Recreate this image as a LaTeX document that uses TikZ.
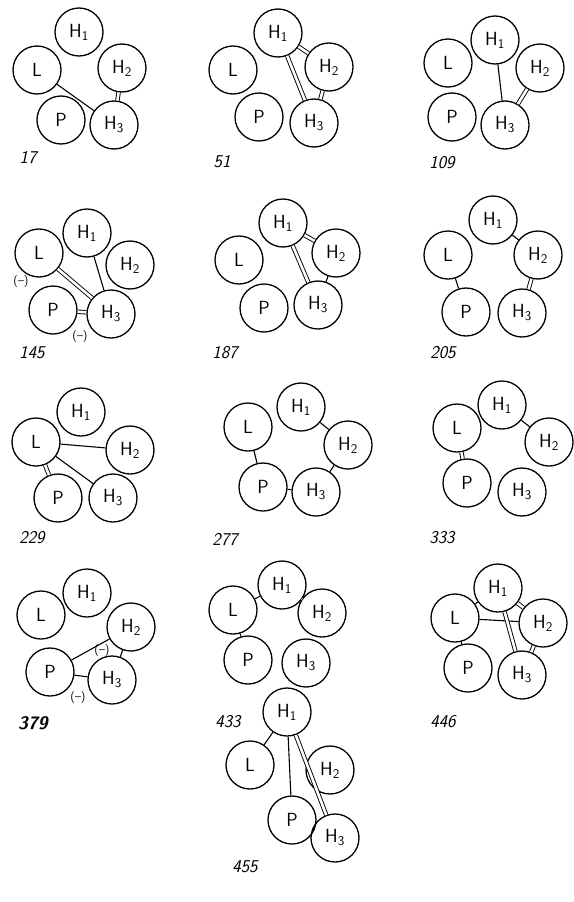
\documentclass[tikz,border=0pt]{standalone}
\usepackage{amsmath}
\usetikzlibrary{arrows,shapes}
\tikzstyle{atom}=[circle,draw=black!100,line width=1.3pt,minimum size=48pt,inner sep=0pt,font=\fontsize{19}{22}\sffamily]
\tikzstyle{sbond}=[line width=1.1pt]
\tikzstyle{dbond}=[double,double distance=2.6pt,line width=0.9pt]
\tikzstyle{nummer}=[font=\fontsize{18}{21}\sffamily\itshape]
\tikzstyle{ladung}=[font=\fontsize{12}{14}\sffamily]

\begin{document}
\begin{tikzpicture}[x=1pt,y=-1pt]
\useasboundingbox (0,0) rectangle (573,902);
% 17
\node[atom] (H1-17) at (79,32) {H\textsubscript{1}};
\node[atom] (L-17) at (37,70) {L};
\node[atom] (H2-17) at (122,68) {H\textsubscript{2}};
\node[atom] (P-17) at (61,120) {P};
\node[atom] (H3-17) at (114,125) {H\textsubscript{3}};
\node[nummer] (n17) at (28,158) {17};
\draw[sbond](L-17)--(H3-17);
\draw[dbond](H2-17)--(H3-17);
% 51
\node[atom] (H1-51) at (278,33) {H\textsubscript{1}};
\node[atom] (L-51) at (233,70) {L};
\node[atom] (H2-51) at (329,67) {H\textsubscript{2}};
\node[atom] (P-51) at (259,117) {P};
\node[atom] (H3-51) at (314,123) {H\textsubscript{3}};
\node[nummer] (n51) at (222,162) {51};
\draw[dbond](H1-51)--(H2-51);
\draw[dbond](H1-51)--(H3-51);
\draw[dbond](H2-51)--(H3-51);
% 109
\node[atom] (H1-109) at (495,40) {H\textsubscript{1}};
\node[atom] (L-109) at (448,63) {L};
\node[atom] (H2-109) at (540,68) {H\textsubscript{2}};
\node[atom] (P-109) at (452,117) {P};
\node[atom] (H3-109) at (505,125) {H\textsubscript{3}};
\node[nummer] (n109) at (442,163) {109};
\draw[sbond](H1-109)--(H3-109);
\draw[dbond](H2-109)--(H3-109);
% 145
\node[atom] (H1-145) at (87,233) {H\textsubscript{1}};
\node[atom] (L-145) at (39,253) {L};
\node[atom] (H2-145) at (130,265) {H\textsubscript{2}};
\node[atom] (P-145) at (53,310) {P};
\node[atom] (H3-145) at (111,314) {H\textsubscript{3}};
\node[nummer] (n145) at (32,353) {145};
\node[ladung] (q1-145) at (21,282) {(--)};
\node[ladung] (q2-145) at (80,337) {(--)};
\draw[dbond](L-145)--(H3-145);
\draw[sbond](H1-145)--(H3-145);
\draw[dbond](P-145)--(H3-145);
% 187
\node[atom] (H1-187) at (283,223) {H\textsubscript{1}};
\node[atom] (L-187) at (239,260) {L};
\node[atom] (H2-187) at (336,253) {H\textsubscript{2}};
\node[atom] (P-187) at (264,308) {P};
\node[atom] (H3-187) at (318,305) {H\textsubscript{3}};
\node[nummer] (n187) at (225,353) {187};
\draw[dbond](H1-187)--(H2-187);
\draw[dbond](H1-187)--(H3-187);
\draw[sbond](H2-187)--(H3-187);
% 205
\node[atom] (H1-205) at (493,220) {H\textsubscript{1}};
\node[atom] (L-205) at (448,255) {L};
\node[atom] (H2-205) at (538,255) {H\textsubscript{2}};
\node[atom] (P-205) at (466,312) {P};
\node[atom] (H3-205) at (522,313) {H\textsubscript{3}};
\node[nummer] (n205) at (443,353) {205};
\draw[sbond](H1-205)--(H2-205);
\draw[sbond](L-205)--(P-205);
\draw[dbond](H2-205)--(H3-205);
% 229
\node[atom] (H1-229) at (81,412) {H\textsubscript{1}};
\node[atom] (L-229) at (36,442) {L};
\node[atom] (H2-229) at (130,450) {H\textsubscript{2}};
\node[atom] (P-229) at (58,498) {P};
\node[atom] (H3-229) at (113,498) {H\textsubscript{3}};
\node[nummer] (n229) at (32,538) {229};
\draw[sbond](L-229)--(H2-229);
\draw[sbond](L-229)--(H3-229);
\draw[dbond](L-229)--(P-229);
% 277
\node[atom] (H1-277) at (301,407) {H\textsubscript{1}};
\node[atom] (L-277) at (248,427) {L};
\node[atom] (H2-277) at (348,445) {H\textsubscript{2}};
\node[atom] (P-277) at (263,487) {P};
\node[atom] (H3-277) at (316,492) {H\textsubscript{3}};
\node[nummer] (n277) at (225,540) {277};
\draw[sbond](L-277)--(P-277);
\draw[sbond](H1-277)--(H2-277);
\draw[sbond](H2-277)--(H3-277);
\draw[sbond](P-277)--(H3-277);
% 333
\node[atom] (H1-333) at (502,405) {H\textsubscript{1}};
\node[atom] (L-333) at (457,428) {L};
\node[atom] (H2-333) at (549,442) {H\textsubscript{2}};
\node[atom] (P-333) at (467,483) {P};
\node[atom] (H3-333) at (522,492) {H\textsubscript{3}};
\node[nummer] (n333) at (442,538) {333};
\draw[dbond](L-333)--(P-333);
\draw[sbond](H1-333)--(H2-333);
% 379
\node[atom] (H1-379) at (87,593) {H\textsubscript{1}};
\node[atom] (L-379) at (41,615) {L};
\node[atom] (H2-379) at (131,627) {H\textsubscript{2}};
\node[atom] (P-379) at (50,672) {P};
\node[atom] (H3-379) at (112,680) {H\textsubscript{3}};
\node[nummer,font=\fontsize{18}{21}\sffamily\bfseries\itshape] (n379) at (33,723) {379};
\node[ladung] (q1-379) at (102,650) {(--)};
\node[ladung] (q2-379) at (78,697) {(--)};
\draw[sbond](P-379)--(H2-379);
\draw[sbond](H2-379)--(H3-379);
\draw[sbond](P-379)--(H3-379);
% 433
\node[atom] (H1-433) at (282,585) {H\textsubscript{1}};
\node[atom] (L-433) at (233,610) {L};
\node[atom] (H2-433) at (322,613) {H\textsubscript{2}};
\node[atom] (P-433) at (248,660) {P};
\node[atom] (H3-433) at (306,663) {H\textsubscript{3}};
\node[nummer] (n433) at (228,722) {433};
\draw[sbond](L-433)--(H1-433);
\draw[dbond](H1-433)--(H2-433);
\draw[sbond](L-433)--(P-433);
% 446
\node[atom] (H1-446) at (498,588) {H\textsubscript{1}};
\node[atom] (L-446) at (455,618) {L};
\node[atom] (H2-446) at (543,623) {H\textsubscript{2}};
\node[atom] (P-446) at (468,668) {P};
\node[atom] (H3-446) at (522,675) {H\textsubscript{3}};
\node[nummer] (n446) at (443,722) {446};
\draw[sbond](L-446)--(H2-446);
\draw[dbond](H1-446)--(H3-446);
\draw[dbond](H1-446)--(H2-446);
\draw[dbond](H2-446)--(H3-446);
\draw[sbond](L-446)--(P-446);
\draw[sbond](L-446)--(H1-446);
% 455
\node[atom] (H1-455) at (287,712) {H\textsubscript{1}};
\node[atom] (L-455) at (250,765) {L};
\node[atom] (H2-455) at (330,770) {H\textsubscript{2}};
\node[atom] (P-455) at (292,820) {P};
\node[atom] (H3-455) at (335,838) {H\textsubscript{3}};
\node[nummer] (n455) at (245,867) {455};
\draw[sbond](L-455)--(H1-455);
\draw[sbond](H1-455)--(P-455);
\draw[dbond](H1-455)--(H3-455);
\draw[sbond](P-455)--(H3-455);
\end{tikzpicture}
\end{document}
